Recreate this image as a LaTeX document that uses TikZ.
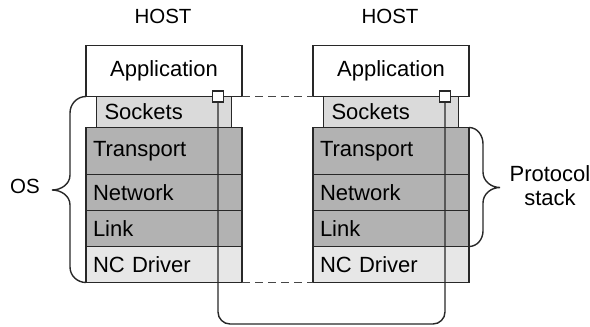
\documentclass[tikz,border=0pt]{standalone}
\usepackage{fontspec}
\setmainfont{Liberation Sans}
\usetikzlibrary{positioning, calc}
\definecolor{layEdge}{RGB}{40,40,40}
\definecolor{sockFill}{RGB}{218,218,218}
\definecolor{stackFill}{RGB}{178,178,178}
\definecolor{drvFill}{RGB}{231,231,231}
\definecolor{dashCol}{RGB}{70,70,70}

\begin{document}
\begin{tikzpicture}[x=1pt, y=1pt,
    layer/.style={rectangle, draw=layEdge, line width=1.4pt, outer sep=0pt, minimum width=156pt, minimum height=36pt, text width=142pt, inner xsep=7pt, align=left, font=\fontsize{22}{25}\selectfont},
    appbox/.style={layer, fill=white, minimum height=51pt, align=center},
    sockbox/.style={layer, fill=sockFill, minimum width=135pt, text width=119pt, minimum height=31pt, inner ysep=0pt},
    stk/.style={layer, fill=stackFill},
    drv/.style={layer, fill=drvFill},
    port/.style={rectangle, draw=layEdge, fill=white, line width=1.4pt, minimum size=11pt, inner sep=0pt},
    hostlbl/.style={font=\fontsize{20.5}{24}\selectfont},
    sidelbl/.style={font=\fontsize{22}{24}\selectfont, align=center},
    lnk/.style={draw=layEdge, line width=1.4pt, rounded corners=12pt},
    dsh/.style={draw=dashCol, line width=1.4pt, dash pattern=on 8pt off 5pt},
    brc/.style={draw=layEdge, line width=1.4pt},
]
\useasboundingbox (0,0) rectangle (590,-327);

% ========== LEFT HOST ==========
\node[hostlbl] (hostL) at (163,-16) {HOST};
\node[appbox] (appL) at (164,-71) {Application};
\node[sockbox, below=0pt of appL] (sockL) {Sockets};
\node[stk, below=0pt of sockL, minimum height=47pt] (transL) {Transport};
\node[stk, below=0pt of transL] (netL) {Network};
\node[stk, below=0pt of netL] (linkL) {Link};
\node[drv, below=0pt of linkL] (ncL) {NC Driver};

% ========== RIGHT HOST ==========
\node[hostlbl] (hostR) at (390,-16) {HOST};
\node[appbox] (appR) at (391,-71) {Application};
\node[sockbox, below=0pt of appR] (sockR) {Sockets};
\node[stk, below=0pt of sockR, minimum height=47pt] (transR) {Transport};
\node[stk, below=0pt of transR] (netR) {Network};
\node[stk, below=0pt of netR] (linkR) {Link};
\node[drv, below=0pt of linkR] (ncR) {NC Driver};

% --- dashed peers ---
\draw[dsh] (appL.south east) -- (appR.south west);
\draw[dsh] (ncL.south east) -- (ncR.south west);

% --- socket ports and the wire between them ---
\coordinate (bot) at (330,-324);
\draw[lnk] ([xshift=54pt]appL.south) |- (bot) -| ([xshift=54pt]appR.south);
\node[port] (sqL) at ([xshift=54pt]appL.south) {};
\node[port] (sqR) at ([xshift=54pt]appR.south) {};

% ========== BRACES ==========
\draw[brc] (appL.south west) to[out=180,in=90] (70,-113) -- (70,-175)
    to[out=-90,in=0] (52,-190) to[out=0,in=90] (70,-205) -- (70,-267)
    to[out=-90,in=180] (ncL.south west);
\node[hostlbl] (os) at (25,-186) {OS};

\draw[brc] (transR.north east) to[out=0,in=90] (483,-144) -- (483,-172)
    to[out=-90,in=180] (500,-187.5) to[out=180,in=90] (483,-203) -- (483,-231)
    to[out=-90,in=0] (linkR.south east);
\node[sidelbl] (pstack) at (550,-186) {Protocol\\stack};

\end{tikzpicture}
\end{document}
